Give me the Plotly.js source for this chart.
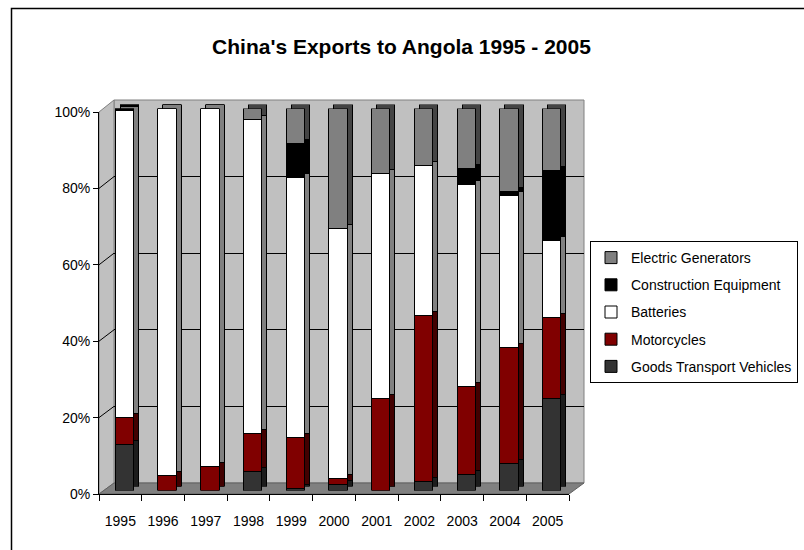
<!DOCTYPE html>
<html><head><meta charset="utf-8">
<script src="https://cdn.plot.ly/plotly-3.0.1.min.js"></script>
<style>html,body{margin:0;padding:0;background:#fff}</style>
</head><body><div id="chart" style="width:804px;height:550px"></div>
<script>
// ---- data (percent share of exports) ----
const years = ['1995','1996','1997','1998','1999','2000','2001','2002','2003','2004','2005'];
const goodsTransport = [12.0, 0.0, 0.0, 5.0, 0.5, 1.6, 0.0, 2.3, 4.3, 7.0, 24.2];
const motorcycles    = [7.0, 4.0, 6.3, 10.0, 13.4, 1.6, 24.0, 43.4, 22.9, 30.4, 21.1];
const batteries      = [80.5, 96.0, 93.7, 82.1, 68.1, 65.4, 58.9, 39.4, 52.9, 39.7, 20.1];
const construction   = [0.5, 0.0, 0.0, 0.0, 8.8, 0.0, 0.0, 0.0, 4.1, 1.3, 18.4];
const generators     = [0.0, 0.0, 0.0, 2.9, 9.2, 31.4, 17.1, 14.9, 15.8, 21.6, 16.2];
const yTicks = [0, 20, 40, 60, 80, 100];

// ---- styles ----
const series = [
  {name:'Goods Transport Vehicles', vals:goodsTransport, color:'#333333', side:'#1c1c1c', rank:5},
  {name:'Motorcycles',              vals:motorcycles,    color:'#800000', side:'#420000', rank:4},
  {name:'Batteries',                vals:batteries,      color:'#ffffff', side:'#808080', rank:3},
  {name:'Construction Equipment',   vals:construction,   color:'#000000', side:'#000000', rank:2},
  {name:'Electric Generators',      vals:generators,     color:'#808080', side:'#444444', rank:1}
];

const W = 804, H = 550;
const fx = p => p / W, fy = p => 1 - p / H;
// pixel geometry of the pseudo-3D box
const frontG = {x0:99,  x1:569, yb:494,   yt:112};
const wallG  = {x0:114, x1:584, yb:483,   yt:100};
const barG   = {x0:103, x1:573, yb:490.5, yt:108.5};
const sideG  = {x0:108, x1:578, yb:486.5, yt:104.5};
const FONT = 'Arial, "Liberation Sans", sans-serif';
const BW = 0.43;

function hiddenX(g, anchor, extra) {
  return Object.assign({domain:[fx(g.x0), fx(g.x1)], anchor:anchor, type:'category',
    categoryarray:years, range:[-0.5, 10.5], showgrid:false, showticklabels:false,
    ticks:'', zeroline:false, showline:false, fixedrange:true}, extra || {});
}
function hiddenY(g, anchor, extra) {
  return Object.assign({domain:[fy(g.yb), fy(g.yt)], anchor:anchor, range:[0, 100],
    showgrid:false, showticklabels:false, ticks:'', zeroline:false, showline:false,
    fixedrange:true}, extra || {});
}

const nulls = years.map(() => null);
const traces = [];
// wall subplot (gridlines only)
traces.push({type:'scatter', mode:'markers', x:years, y:nulls, xaxis:'x', yaxis:'y',
  showlegend:false, hoverinfo:'skip'});
// side / top faces
series.forEach(s => traces.push({type:'bar', x:years, y:s.vals, xaxis:'x2', yaxis:'y2',
  width:BW, marker:{color:s.side, line:{color:'#000', width:1}}, showlegend:false,
  hoverinfo:'skip', cliponaxis:false}));
// front faces
series.forEach(s => traces.push({type:'bar', name:s.name, legendgroup:s.name, legendrank:s.rank,
  x:years, y:s.vals, xaxis:'x3', yaxis:'y3', width:BW,
  marker:{color:s.color, line:{color:'#000', width:1}}, cliponaxis:false}));
// front axis subplot (ticks & labels)
traces.push({type:'scatter', mode:'markers', x:years, y:nulls, xaxis:'x4', yaxis:'y4',
  showlegend:false, hoverinfo:'skip'});

const yF = v => frontG.yb - v / 100 * (frontG.yb - frontG.yt);
const yW = v => wallG.yb - v / 100 * (wallG.yb - wallG.yt);
const P = (x, y) => fx(x) + ',' + fy(y);

const shapes = [
  // chart area border
  {type:'rect', xref:'paper', yref:'paper', x0:fx(11.5), y0:fy(8.5), x1:1.02, y1:-0.02,
   line:{color:'#000', width:1.5}, fillcolor:'rgba(0,0,0,0)', layer:'below'},
  // back wall
  {type:'rect', xref:'paper', yref:'paper', x0:fx(wallG.x0), x1:fx(wallG.x1), y0:fy(wallG.yb), y1:fy(wallG.yt),
   fillcolor:'#c0c0c0', line:{color:'#808080', width:1}, layer:'below'},
  // left wall
  {type:'path', xref:'paper', yref:'paper', layer:'below', fillcolor:'#c0c0c0', line:{color:'#808080', width:1},
   path:'M' + P(frontG.x0, frontG.yb) + 'L' + P(frontG.x0, frontG.yt) + 'L' + P(wallG.x0, wallG.yt) + 'L' + P(wallG.x0, wallG.yb) + 'Z'},
  // floor
  {type:'path', xref:'paper', yref:'paper', layer:'below', fillcolor:'#808080', line:{color:'#606060', width:1},
   path:'M' + P(frontG.x0, frontG.yb) + 'L' + P(frontG.x1, frontG.yb) + 'L' + P(wallG.x1, wallG.yb) + 'L' + P(wallG.x0, wallG.yb) + 'Z'}
];
// diagonal gridlines on the left wall
yTicks.slice(1, -1).forEach(v => shapes.push({type:'line', xref:'paper', yref:'paper', layer:'below',
  x0:fx(frontG.x0), y0:fy(yF(v)), x1:fx(wallG.x0), y1:fy(yW(v)), line:{color:'#000', width:1}}));

const layout = {
  width:W, height:H, margin:{l:0, r:0, t:0, b:0},
  paper_bgcolor:'#ffffff', plot_bgcolor:'rgba(0,0,0,0)',
  font:{family:FONT, color:'#000', size:14},
  barmode:'stack', showlegend:true,
  title:{text:"<b>China's Exports to Angola 1995 - 2005</b>", x:fx(401.5), xanchor:'center',
    y:fy(47), yanchor:'middle', xref:'paper', yref:'paper', font:{family:FONT, size:21, color:'#000'}},
  xaxis: hiddenX(wallG, 'y'),
  yaxis: hiddenY(wallG, 'x', {showgrid:true, gridcolor:'#000', gridwidth:1, tickvals:yTicks}),
  xaxis2: hiddenX(sideG, 'y2'),
  yaxis2: hiddenY(sideG, 'x2'),
  xaxis3: hiddenX(barG, 'y3'),
  yaxis3: hiddenY(barG, 'x3'),
  xaxis4: hiddenX(frontG, 'y4', {showticklabels:true, ticks:'outside', tickson:'boundaries',
    ticklen:6, tickcolor:'#000', tickwidth:1, showline:true, linecolor:'#000', linewidth:1,
    ticklabelstandoff:14, tickfont:{family:FONT, size:14, color:'#000'}}),
  yaxis4: hiddenY(frontG, 'x4', {showticklabels:true, ticks:'outside', ticklen:5, tickcolor:'#000',
    tickwidth:1, tickvals:yTicks, ticktext:yTicks.map(v => v + '%'), showline:true, linecolor:'#000',
    linewidth:1, tickfont:{family:FONT, size:14, color:'#000'}}),
  legend:{x:fx(590), y:fy(241), xanchor:'left', yanchor:'top', traceorder:'grouped',
    tracegroupgap:6, bgcolor:'#ffffff', bordercolor:'#000', borderwidth:1,
    font:{family:FONT, size:14, color:'#000'}, itemwidth:30},
  shapes:shapes
};

Plotly.newPlot('chart', traces, layout, {staticPlot:true, displayModeBar:false});
</script>
</body></html>
